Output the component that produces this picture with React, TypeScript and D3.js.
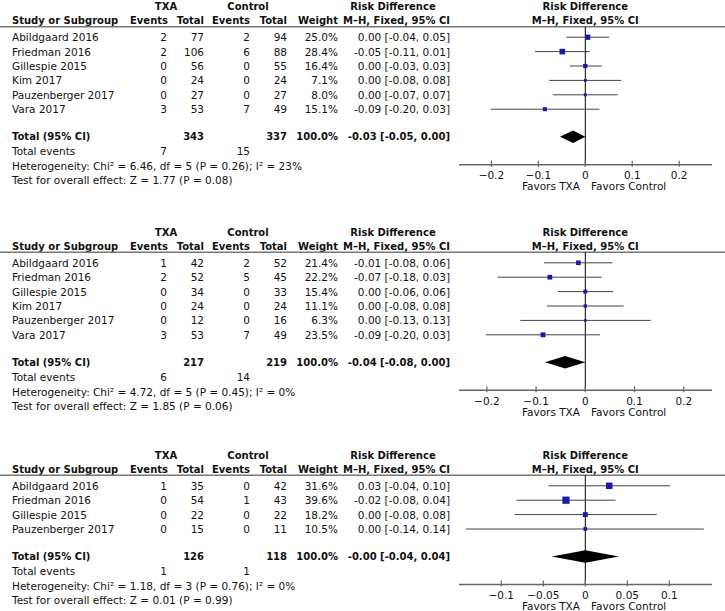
import React from "react";
import * as d3 from "d3";

// ---------- DATA ----------
const p1Studies = ["Abildgaard 2016", "Friedman 2016", "Gillespie 2015", "Kim 2017", "Pauzenberger 2017", "Vara 2017"];
const p1TxaEvents = [2, 2, 0, 0, 0, 3];
const p1TxaTotal = [77, 106, 56, 24, 27, 53];
const p1CtlEvents = [2, 6, 0, 0, 0, 7];
const p1CtlTotal = [94, 88, 55, 24, 27, 49];
const p1Weight = [25.0, 28.4, 16.4, 7.1, 8.0, 15.1];
const p1CiText = ["0.00 [-0.04, 0.05]", "-0.05 [-0.11, 0.01]", "0.00 [-0.03, 0.03]", "0.00 [-0.08, 0.08]", "0.00 [-0.07, 0.07]", "-0.09 [-0.20, 0.03]"];
const p1Est = [0.005, -0.049, 0, 0, 0, -0.086];
const p1Lo = [-0.040, -0.107, -0.033, -0.077, -0.069, -0.201];
const p1Hi = [0.051, 0.009, 0.035, 0.077, 0.069, 0.030];
const p1Total = { txa: 343, ctl: 337, ci: "-0.03 [-0.05, 0.00]", est: -0.026, lo: -0.054, hi: 0.0, evTxa: 7, evCtl: 15 };
const p1Het = "Heterogeneity: Chi² = 6.46, df = 5 (P = 0.26); I² = 23%";
const p1Test = "Test for overall effect: Z = 1.77 (P = 0.08)";
const p1Ticks = [-0.2, -0.1, 0, 0.1, 0.2];

const p2Studies = ["Abildgaard 2016", "Friedman 2016", "Gillespie 2015", "Kim 2017", "Pauzenberger 2017", "Vara 2017"];
const p2TxaEvents = [1, 2, 0, 0, 0, 3];
const p2TxaTotal = [42, 52, 34, 24, 12, 53];
const p2CtlEvents = [2, 5, 0, 0, 0, 7];
const p2CtlTotal = [52, 45, 33, 24, 16, 49];
const p2Weight = [21.4, 22.2, 15.4, 11.1, 6.3, 23.5];
const p2CiText = ["-0.01 [-0.08, 0.06]", "-0.07 [-0.18, 0.03]", "0.00 [-0.06, 0.06]", "0.00 [-0.08, 0.08]", "0.00 [-0.13, 0.13]", "-0.09 [-0.20, 0.03]"];
const p2Est = [-0.014, -0.072, 0, 0, 0, -0.086];
const p2Lo = [-0.084, -0.178, -0.056, -0.078, -0.132, -0.202];
const p2Hi = [0.055, 0.033, 0.057, 0.078, 0.133, 0.030];
const p2Total = { txa: 217, ctl: 219, ci: "-0.04 [-0.08, 0.00]", est: -0.041, lo: -0.082, hi: 0.0, evTxa: 6, evCtl: 14 };
const p2Het = "Heterogeneity: Chi² = 4.72, df = 5 (P = 0.45); I² = 0%";
const p2Test = "Test for overall effect: Z = 1.85 (P = 0.06)";
const p2Ticks = [-0.2, -0.1, 0, 0.1, 0.2];

const p3Studies = ["Abildgaard 2016", "Friedman 2016", "Gillespie 2015", "Pauzenberger 2017"];
const p3TxaEvents = [1, 0, 0, 0];
const p3TxaTotal = [35, 54, 22, 15];
const p3CtlEvents = [0, 1, 0, 0];
const p3CtlTotal = [42, 43, 22, 11];
const p3Weight = [31.6, 39.6, 18.2, 10.5];
const p3CiText = ["0.03 [-0.04, 0.10]", "-0.02 [-0.08, 0.04]", "0.00 [-0.08, 0.08]", "0.00 [-0.14, 0.14]"];
const p3Est = [0.0285, -0.023, 0, 0];
const p3Lo = [-0.044, -0.082, -0.084, -0.142];
const p3Hi = [0.101, 0.036, 0.085, 0.141];
const p3Total = { txa: 126, ctl: 118, ci: "-0.00 [-0.04, 0.04]", est: 0.0, lo: -0.040, hi: 0.040, evTxa: 1, evCtl: 1 };
const p3Het = "Heterogeneity: Chi² = 1.18, df = 3 (P = 0.76); I² = 0%";
const p3Test = "Test for overall effect: Z = 0.01 (P = 0.99)";
const p3Ticks = [-0.1, -0.05, 0, 0.05, 0.1];

// ---------- LAYOUT ----------
const FONT = "'DejaVu Sans', Verdana, sans-serif";
const FS = 10.5;
const BFS = 10;
const ROW = 14.4;
const X_EVT_T = 167, X_TOT_T = 204, X_EVT_C = 250, X_TOT_C = 287, X_W = 338, X_CI = 450;
const PLOT_L = 459, PLOT_R = 712, ZERO_X = 585.3;
const MARK = "#1a1aa6";

type PanelProps = {
  top: number; studies: string[]; te: number[]; tt: number[]; ce: number[]; ct: number[];
  w: number[]; ci: string[]; est: number[]; lo: number[]; hi: number[];
  total: any; het: string; test: string; ticks: number[]; half: number; k: number;
};

function Panel(p: PanelProps) {
  const L = p.top;
  const x = d3.scaleLinear().domain([-p.half, p.half]).range([ZERO_X - (ZERO_X - PLOT_L), ZERO_X + (ZERO_X - PLOT_L)]);
  const rowY = (i: number) => L + 10.5 + i * ROW;
  const lastY = rowY(p.studies.length - 1);
  const totY = lastY + 27.5;
  const axisY = totY + 28;
  const fmt = (v: number) => (v === 0 ? "0" : d3.format("")(v).replace("-", "\u2013"));
  const t = (props: any, txt: any, bold = false) => (
    <text fontFamily={FONT} fontSize={bold ? BFS : FS} fontWeight={bold ? "bold" : "normal"} dominantBaseline="central" fill="#111" {...props}>{txt}</text>
  );
  return (
    <g>
      {/* header */}
      {t({ x: 166, y: L - 20, textAnchor: "middle" }, "TXA", true)}
      {t({ x: 248, y: L - 20, textAnchor: "middle" }, "Control", true)}
      {t({ x: 393, y: L - 20, textAnchor: "middle" }, "Risk Difference", true)}
      {t({ x: ZERO_X, y: L - 20, textAnchor: "middle" }, "Risk Difference", true)}
      {t({ x: 12, y: L - 6 }, "Study or Subgroup", true)}
      {t({ x: X_EVT_T + 1, y: L - 6, textAnchor: "end" }, "Events", true)}
      {t({ x: X_TOT_T, y: L - 6, textAnchor: "end" }, "Total", true)}
      {t({ x: X_EVT_C, y: L - 6, textAnchor: "end" }, "Events", true)}
      {t({ x: X_TOT_C, y: L - 6, textAnchor: "end" }, "Total", true)}
      {t({ x: X_W, y: L - 6, textAnchor: "end" }, "Weight", true)}
      {t({ x: X_CI, y: L - 6, textAnchor: "end" }, "M\u2013H, Fixed, 95% CI", true)}
      {t({ x: ZERO_X, y: L - 6, textAnchor: "middle" }, "M\u2013H, Fixed, 95% CI", true)}
      <line x1={0} x2={725} y1={L} y2={L} stroke="#777" strokeWidth={1.5} />
      {/* rows */}
      {p.studies.map((s, i) => (
        <g key={s}>
          {t({ x: 12, y: rowY(i) }, s)}
          {t({ x: X_EVT_T, y: rowY(i), textAnchor: "end" }, p.te[i])}
          {t({ x: X_TOT_T, y: rowY(i), textAnchor: "end" }, p.tt[i])}
          {t({ x: X_EVT_C, y: rowY(i), textAnchor: "end" }, p.ce[i])}
          {t({ x: X_TOT_C, y: rowY(i), textAnchor: "end" }, p.ct[i])}
          {t({ x: X_W, y: rowY(i), textAnchor: "end" }, p.w[i].toFixed(1) + "%")}
          {t({ x: X_CI, y: rowY(i), textAnchor: "end" }, p.ci[i])}
        </g>
      ))}
      {/* total */}
      {t({ x: 12, y: totY }, "Total (95% CI)", true)}
      {t({ x: X_TOT_T, y: totY, textAnchor: "end" }, p.total.txa, true)}
      {t({ x: X_TOT_C, y: totY, textAnchor: "end" }, p.total.ctl, true)}
      {t({ x: X_W, y: totY, textAnchor: "end" }, "100.0%", true)}
      {t({ x: X_CI, y: totY, textAnchor: "end" }, p.total.ci, true)}
      {t({ x: 12, y: totY + 14.7 }, "Total events")}
      {t({ x: X_EVT_T, y: totY + 14.7, textAnchor: "end" }, p.total.evTxa)}
      {t({ x: X_EVT_C, y: totY + 14.7, textAnchor: "end" }, p.total.evCtl)}
      {t({ x: 12, y: totY + 29.2 }, p.het)}
      {t({ x: 12, y: totY + 43.7 }, p.test)}
      {/* forest */}
      <line x1={x(0)} x2={x(0)} y1={L} y2={axisY} stroke="#000" strokeWidth={1} />
      {p.studies.map((s, i) => {
        const sz = p.k * Math.sqrt(p.w[i]);
        return (
          <g key={"f" + s}>
            <line x1={x(p.lo[i])} x2={x(p.hi[i])} y1={rowY(i)} y2={rowY(i)} stroke="#444" strokeWidth={1} />
            <rect x={x(p.est[i]) - sz / 2} y={rowY(i) - sz / 2} width={sz} height={sz} fill={MARK} />
          </g>
        );
      })}
      <path
        d={`M${x(p.total.lo)},${totY} L${x(p.total.est)},${totY - 6.3} L${x(p.total.hi)},${totY} L${x(p.total.est)},${totY + 6.3} Z`}
        fill="#000"
      />
      {/* axis */}
      <line x1={PLOT_L} x2={PLOT_R} y1={axisY} y2={axisY} stroke="#666" strokeWidth={1.5} />
      {p.ticks.map((v) => (
        <g key={"t" + v}>
          <line x1={x(v)} x2={x(v)} y1={axisY - 4} y2={axisY + 2} stroke="#666" strokeWidth={1.2} />
          {t({ x: x(v), y: axisY + 10.5, textAnchor: "middle" }, fmt(v))}
        </g>
      ))}
      {t({ x: 580, y: axisY + 21.5, textAnchor: "end" }, "Favors TXA")}
      {t({ x: 591, y: axisY + 21.5 }, "Favors Control")}
    </g>
  );
}

export default function App() {
  return (
    <svg width={725} height={611} style={{ position: "absolute", left: 0, top: 0, background: "#fff" }}>
      <rect width={725} height={611} fill="#fff" />
      <Panel top={26.7} studies={p1Studies} te={p1TxaEvents} tt={p1TxaTotal} ce={p1CtlEvents} ct={p1CtlTotal}
        w={p1Weight} ci={p1CiText} est={p1Est} lo={p1Lo} hi={p1Hi} total={p1Total} het={p1Het} test={p1Test}
        ticks={p1Ticks} half={0.269} k={1.05} />
      <Panel top={252.3} studies={p2Studies} te={p2TxaEvents} tt={p2TxaTotal} ce={p2CtlEvents} ct={p2CtlTotal}
        w={p2Weight} ci={p2CiText} est={p2Est} lo={p2Lo} hi={p2Hi} total={p2Total} het={p2Het} test={p2Test}
        ticks={p2Ticks} half={0.2566} k={1.0} />
      <Panel top={475.3} studies={p3Studies} te={p3TxaEvents} tt={p3TxaTotal} ce={p3CtlEvents} ct={p3CtlTotal}
        w={p3Weight} ci={p3CiText} est={p3Est} lo={p3Lo} hi={p3Hi} total={p3Total} het={p3Het} test={p3Test}
        ticks={p3Ticks} half={0.1503} k={1.15} />
    </svg>
  );
}
